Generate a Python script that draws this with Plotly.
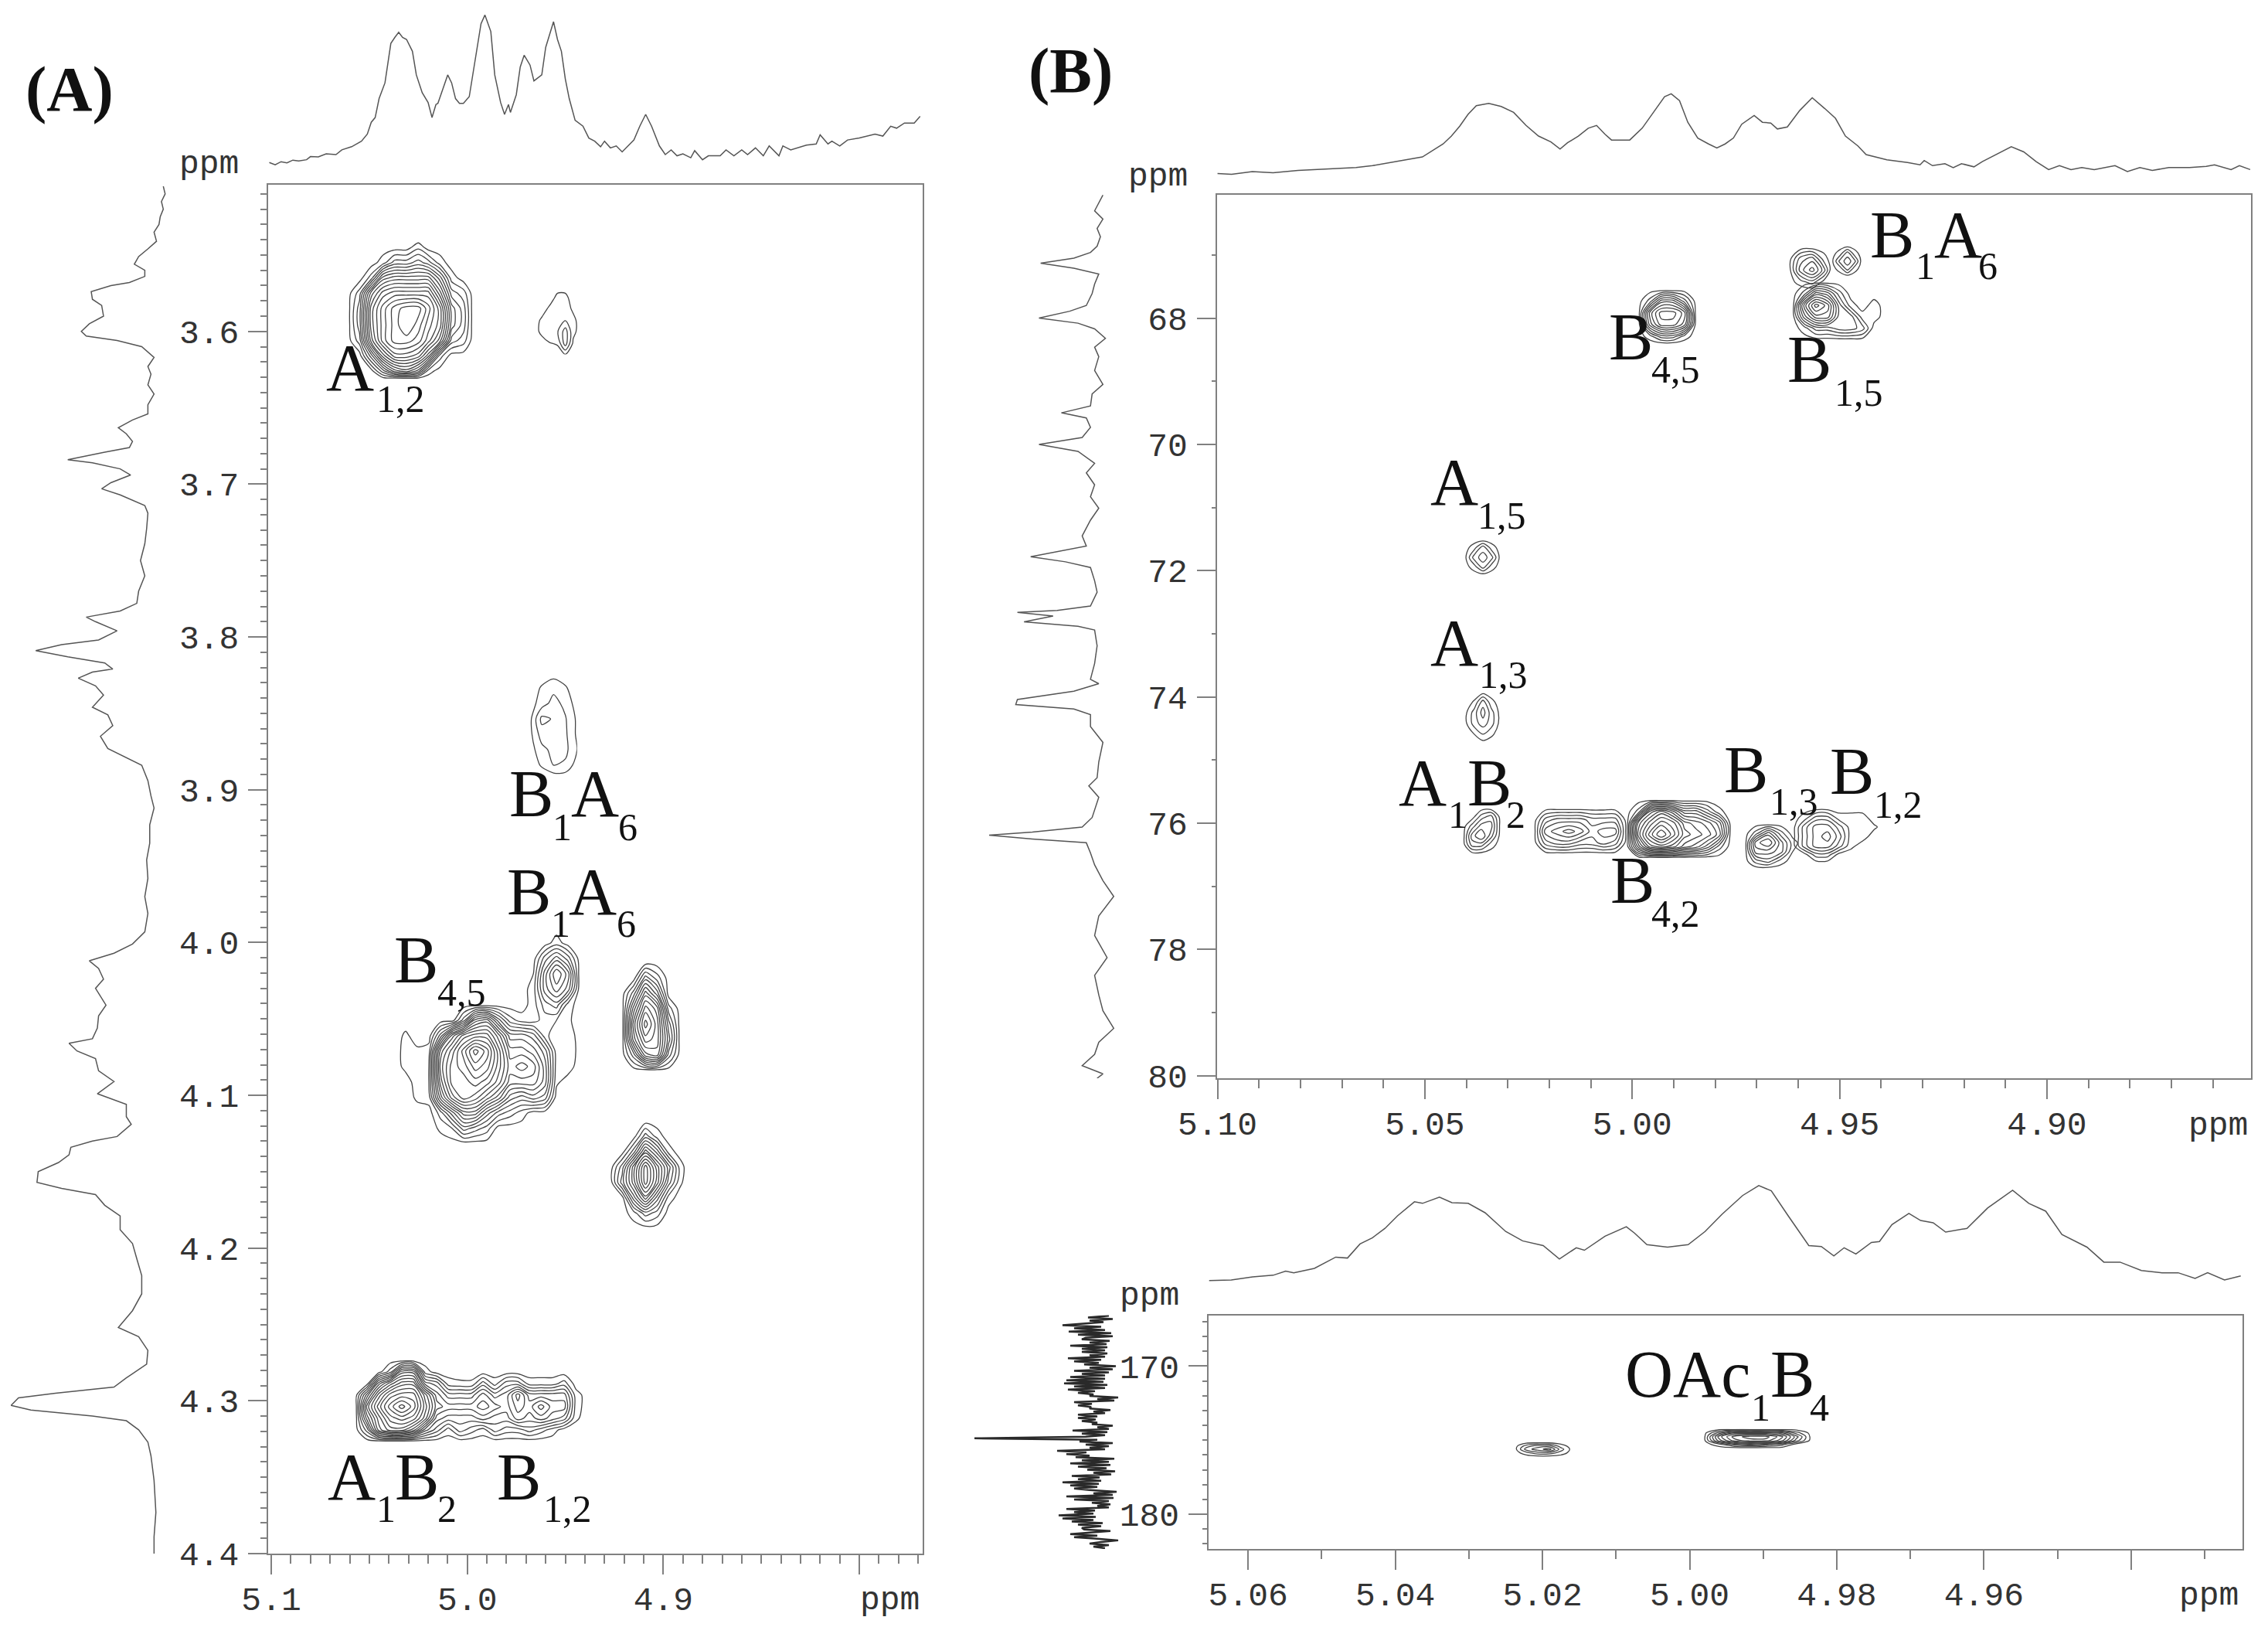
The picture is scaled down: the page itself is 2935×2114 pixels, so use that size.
import numpy as np
import plotly.graph_objects as go

W, H = 2935, 2114
MONO = "Liberation Mono"
SERIF = "Liberation Serif"
LINE = "#555555"
CONT = "#444444"
AXC = "#808080"
TXT = "#333333"

# ---------- projections: panel A ----------
top_a_ppm = [5.101,5.098,5.095,5.092,5.089,5.086,5.082,5.080,5.076,5.072,5.067,5.064,5.059,5.054,5.051,5.049,5.047,5.045,5.042,5.039,5.037,5.035,5.033,5.031,5.028,5.026,5.023,5.020,5.018,5.016,5.015,5.012,5.010,5.008,5.006,5.004,5.002,4.999,4.996,4.993,4.991,4.988,4.986,4.983,4.981,4.979,4.978,4.975,4.973,4.971,4.968,4.966,4.962,4.960,4.956,4.954,4.952,4.950,4.948,4.945,4.941,4.938,4.935,4.932,4.930,4.927,4.924,4.921,4.918,4.915,4.912,4.909,4.906,4.902,4.899,4.896,4.893,4.890,4.886,4.884,4.880,4.877,4.871,4.868,4.864,4.860,4.857,4.853,4.849,4.846,4.841,4.839,4.835,4.827,4.822,4.820,4.816,4.814,4.810,4.806,4.800,4.792,4.788,4.784,4.781,4.777,4.772,4.769]
top_a_int = [18,12,20,17,24,22,25,33,32,40,38,50,58,72,90,120,132,180,220,320,335,348,335,330,300,240,195,170,132,165,168,210,240,220,180,168,168,185,280,370,392,350,240,170,140,165,145,190,260,290,265,225,240,310,375,330,300,230,180,125,110,80,72,58,72,55,60,45,60,75,110,140,110,60,38,50,35,40,30,48,25,35,35,50,35,50,38,55,35,60,35,60,50,62,65,88,65,72,60,75,80,90,85,110,105,118,118,135]

left_a_ppm = [3.505,3.510,3.515,3.520,3.525,3.530,3.535,3.541,3.546,3.551,3.556,3.560,3.564,3.568,3.570,3.574,3.579,3.583,3.590,3.595,3.600,3.603,3.606,3.610,3.617,3.623,3.628,3.635,3.641,3.648,3.654,3.658,3.663,3.667,3.672,3.676,3.679,3.684,3.686,3.690,3.694,3.699,3.703,3.707,3.714,3.719,3.729,3.739,3.750,3.760,3.770,3.778,3.783,3.787,3.790,3.796,3.802,3.805,3.809,3.813,3.817,3.821,3.823,3.827,3.832,3.838,3.846,3.851,3.858,3.865,3.873,3.879,3.884,3.894,3.904,3.912,3.923,3.935,3.946,3.958,3.970,3.981,3.993,4.001,4.007,4.012,4.017,4.024,4.030,4.041,4.048,4.056,4.063,4.066,4.071,4.076,4.084,4.091,4.099,4.106,4.114,4.119,4.127,4.130,4.134,4.139,4.144,4.150,4.157,4.161,4.165,4.172,4.179,4.188,4.197,4.207,4.218,4.230,4.241,4.252,4.258,4.267,4.276,4.285,4.291,4.295,4.298,4.303,4.306,4.310,4.313,4.319,4.327,4.336,4.352,4.373,4.389,4.400]
left_a_int = [5,2,8,5,10,12,20,16,30,45,52,35,35,60,90,122,120,105,102,125,138,130,80,40,20,30,25,30,20,30,30,55,78,65,55,60,100,160,120,75,58,90,105,75,35,30,32,35,42,35,45,48,75,130,115,80,110,170,212,160,100,87,120,143,115,102,120,95,87,107,95,65,40,30,25,20,27,27,32,30,35,30,35,55,85,125,110,102,115,98,110,112,120,158,145,115,110,85,112,65,65,57,80,120,155,158,175,208,210,170,115,100,75,75,55,48,40,40,55,78,45,30,32,65,85,180,240,252,220,120,65,45,30,25,20,17,20,20]

# ---------- projections: panel B, upper spectrum ----------
top_b_ppm = [5.100,5.0966,5.0916,5.0866,5.0806,5.0766,5.0716,5.0666,5.0626,5.0586,5.0546,5.0506,5.0486,5.0456,5.0436,5.0416,5.0396,5.0376,5.0346,5.0316,5.0286,5.0256,5.0226,5.0196,5.0174,5.0156,5.013,5.0106,5.0086,5.0066,5.005,5.0006,4.9976,4.9946,4.9922,4.9906,4.9886,4.9866,4.9842,4.9816,4.9796,4.9776,4.9756,4.9736,4.9706,4.9686,4.9666,4.965,4.9626,4.9596,4.9566,4.9536,4.951,4.9486,4.9456,4.9436,4.9386,4.9336,4.9306,4.9296,4.9276,4.9246,4.9226,4.9206,4.9176,4.9156,4.9126,4.9086,4.9056,4.9026,4.8996,4.897,4.8942,4.8916,4.8886,4.8836,4.8806,4.8776,4.8746,4.8706,4.8656,4.8616,4.8596,4.8556,4.8536,4.851]
top_b_int = [10,8,15,12,18,20,22,25,30,38,45,52,65,85,105,130,160,182,188,180,165,132,105,90,72,88,105,125,132,110,95,95,125,170,205,212,195,140,100,85,75,85,100,135,157,140,138,123,128,170,202,175,150,105,80,58,45,38,32,43,30,35,25,35,27,40,57,78,65,40,20,30,20,25,20,30,15,25,18,25,25,28,32,20,30,20]

left_b_ppm = [66.05,66.18,66.30,66.43,66.58,66.71,66.86,66.96,67.05,67.13,67.21,67.30,67.46,67.61,67.80,67.89,68.00,68.08,68.17,68.32,68.46,68.61,68.83,69.05,69.20,69.39,69.50,69.58,69.73,69.89,70.00,70.11,70.30,70.45,70.64,70.83,71.01,71.20,71.45,71.61,71.70,71.78,71.86,71.95,72.16,72.34,72.56,72.63,72.66,72.72,72.81,72.88,72.94,73.19,73.47,73.72,73.79,73.91,74.04,74.12,74.19,74.28,74.47,74.72,75.03,75.28,75.41,75.59,75.91,76.06,76.14,76.19,76.25,76.31,76.47,76.66,76.91,77.16,77.47,77.78,78.13,78.41,78.72,78.97,79.25,79.47,79.66,79.84,79.97,80.04]
left_b_int = [15,20,25,15,22,18,22,30,50,90,50,20,25,28,35,55,92,45,25,12,25,20,25,15,28,30,65,35,30,40,92,45,25,35,25,30,20,30,40,35,70,102,60,30,25,22,30,70,118,75,110,45,25,22,25,30,20,50,118,120,50,30,30,15,20,22,32,20,28,40,100,152,100,35,30,25,15,2,20,25,10,25,20,15,2,20,25,40,15,22]

# ---------- projections: panel B, lower spectrum ----------
top_c_ppm = [5.0653,5.0623,5.0594,5.0566,5.0549,5.0538,5.0510,5.0481,5.0465,5.0448,5.0431,5.0414,5.0397,5.0374,5.0363,5.0340,5.0323,5.0301,5.0278,5.0250,5.0227,5.0199,5.0177,5.0154,5.0143,5.0115,5.0086,5.0075,5.0058,5.0030,5.0002,4.9979,4.9956,4.9928,4.9906,4.9889,4.9866,4.9838,4.9821,4.9804,4.9790,4.9774,4.9753,4.9742,4.9725,4.9702,4.9686,4.9669,4.9652,4.9623,4.9595,4.9561,4.9539,4.9516,4.9494,4.9460,4.9437,4.9415,4.9386,4.9358,4.9336,4.9313,4.9296,4.9273,4.9251]
top_c_int = [13,15,25,30,43,38,52,88,85,130,150,180,220,265,260,280,262,260,230,170,140,125,82,118,110,155,185,165,128,120,128,170,225,285,317,300,220,125,122,92,118,98,135,138,192,228,205,198,168,180,245,302,260,235,160,120,72,72,45,38,38,20,38,15,28]

left_c_int = [15,42,10,40,22,45,75,25,60,20,67,12,55,10,45,50,14,40,18,65,17,50,20,50,17,40,20,68,25,60,28,47,6,40,10,60,15,50,20,65,20,70,22,73,17,60,20,68,33,55,35,40,3,30,8,60,37,55,38,40,13,35,20,55,30,55,32,50,30,37,10,30,15,62,17,50,20,45,189,30,53,10,45,15,40,20,82,44,70,40,58,8,50,15,65,13,55,18,43,7,35,12,63,27,55,25,75,28,65,30,60,40,5,35,10,70,9,60,15,37,13,30,15,70,33,60,35,80,32,75,35,63,23,55,25,50,47,13,40,65,30,60,30,3,25,40,15,35,20]
left_c_ppm = np.linspace(166.6, 182.3, len(left_c_int))

# ---------- 2D peaks: (ppm x, ppm y, number of contour rings read at each point) ----------
peaks_a = [
 ([5.061,5.055,5.049,5.043,5.037,5.031,5.025,5.020,5.014,5.008,5.002,4.997],
  [3.540,3.545,3.555,3.565,3.575,3.585,3.596,3.606,3.616,3.626,3.631],
  [[0,0,0,0,0,0,0,0,0,0,0,0],
   [0,0,0,0,0,0,1.2,0,0,0,0,0],
   [0,0,0,1,3,3,4,3,1,0,0,0],
   [0,0,2,7,8,8,8,8,5,1,0,0],
   [0,2,8,11,12,12,12,12,8,3,2,0],
   [0,3,10,13,15,16,16,14,11,5,3,0],
   [0,3,10,13,15,16.5,15,13,11,5,3,0],
   [0,2,9,13,15,15,14,12,9,3,2,0],
   [0,0,4,9,12,12,11,8,2,0,0,0],
   [0,0,0,3,6,7,5,1,0,0,0,0],
   [0,0,0,0,0,0,0,0,0,0,0,0]]),
 ([4.966,4.962,4.958,4.954,4.950,4.946,4.942],
  [3.570,3.578,3.585,3.593,3.600,3.608,3.615],
  [[0,0,0,0,0,0,0],[0,0,0,.8,.8,0,0],[0,0,.7,1,1,.3,0],[0,.7,1,1.5,1.5,.8,0],[0,.8,1.5,1.4,3,.8,0],[0,0,.4,.6,3,.3,0],[0,0,0,0,.5,0,0]]),
 ([4.968,4.962,4.956,4.950,4.944],
  [3.8233,3.8334,3.8435,3.8536,3.8637,3.8738,3.8839,3.8916],
  [[0,0,0,0,0],[0,.6,1.2,.6,0],[0,1,1.9,1.2,0],[.2,2.8,2.4,1.6,.3],[.2,2,2.2,1.7,.3],[0,1.2,1.8,1.8,.5],[0,.6,1.5,1.3,0],[0,0,0,0,0]]),
 ([4.9210,4.9151,4.9091,4.9032,4.8973,4.8914],
  [4.0130,4.0231,4.0332,4.0433,4.0534,4.0635,4.0737,4.0838],
  [[0,0,0,0,0,0],[0,0,4,2,0,0],[0,3,8,5,0,0],[0,6,11,9,2,0],[0,8,13,10,4,0],[0,7,11,10,5,0],[0,3,8,9,3,0],[0,0,0,0,0,0]]),
 ([4.9269,4.9210,4.9151,4.9091,4.9032,4.8973,4.8914,4.8875],
  [4.1166,4.1267,4.1368,4.1469,4.1571,4.1672,4.1773,4.1874],
  [[0,0,0,0,0,0,0,0],[0,0,0,3,1,0,0,0],[0,0,3,8,5,1,0,0],[0,3,8,13,9,5,1,0],[0,4,8,13,9,4,.7,0],[0,0,5,9,5,1,0,0],[0,0,1,3,2,0,0,0],[0,0,0,0,0,0,0,0]]),
 ([5.0373,5.0314,5.0255,5.0196,5.0136,5.0077,5.0018,4.9959,4.9900,4.9841,4.9782,4.9722,4.9663,4.9604,4.9545,4.9486,4.9427],
  [3.9902,4.0003,4.0104,4.0205,4.0306,4.0408,4.0509,4.0610,4.0711,4.0812,4.0914,4.1015,4.1116,4.1217,4.1318],
  [[0,0,0,0,0,0,0,0,0,0,0,0,0,0,0,0,0],
   [0,0,0,0,0,0,0,0,0,0,0,0,0,0,1,0,0],
   [0,0,0,0,0,0,0,0,0,0,0,0,0,3,5,3,0],
   [0,0,0,0,0,0,0,0,0,0,0,0,.5,5,8.5,6,0],
   [0,0,0,0,0,0,0,0,0,0,0,0,1,5,7,5,0],
   [0,0,0,0,0,0,0,0,0,0,0,0,1,3,4,1,0],
   [0,0,0,0,0,0,3,8,9,5,2,1,1,2,1.5,.7,0],
   [0,.7,0,0,4,9,12,13,13,10,6,6,5,2,.5,1.2,0],
   [0,.9,.7,1,9,12,15,18,16,12,8,8,7,5,1,1.5,0],
   [0,.8,1,1.5,10,13,14,16,15,12,9,10,9,6,1,1,0],
   [0,0,1,1.5,9,13,13,14,13,11,8,8,8,6,.7,0,0],
   [0,0,.7,1,7,11,13,12,10,8,5,4,5,4,0,0,0],
   [0,0,0,0,2,5,8,8,5,3,2,1,0,0,0,0,0],
   [0,0,0,0,.7,1.5,4,3,2,0,0,0,0,0,0,0,0],
   [0,0,0,0,0,0,0,0,0,0,0,0,0,0,0,0,0]]),
 ([5.0570,5.0511,5.0452,5.0393,5.0334,5.0274,5.0215,5.0156,5.0097,5.0038,4.9979,4.9920,4.9860,4.9801,4.9742,4.9683,4.9624,4.9565,4.9506,4.9446,4.9387],
  [4.2734,4.2810,4.2886,4.2962,4.3038,4.3114,4.3190,4.3266],
  [[0]*21,
   [0,0,0,2,7,7,1,0,0,0,0,0,0,0,0,0,0,0,0,0,0],
   [0,0,6,9,11,11,5,4,1,.7,.7,3,1,3,3,1,1,1,2,0,0],
   [0,5,10,13,14,14,10,6,4,4,4,6,4,5,8,5,5,5,5,1,0],
   [0,8,12,15,17,15,11,7,6,6,6,7,6,5,7,6,8,6,6,1,0],
   [0,6,10,13,14,13,10,5,4,4,4,5,4,4,6,5,6,5,4,.7,0],
   [0,3,9,11,11,9,5,3,1,3,2,1,3,2,2,3,2,1,0,0,0],
   [0]*21]),
]

peaks_b = [
 ([4.9985,4.9957,4.9930,4.9902,4.9874,4.9846],[67.55,67.73,67.92,68.10,68.29,68.41],
  [[0,0,0,0,0,0],[0,2,6,6,3,0],[0,7,10,10,8,0],[0,6,9,9,7,0],[0,1,3,3,1,0],[0,0,0,0,0,0]]),
 ([4.9613,4.9585,4.9557,4.9529,4.9501,4.9473,4.9445,4.9417,4.9389],[67.43,67.61,67.80,67.98,68.16,68.35],
  [[0]*9,[0,2,6,5,2,0,0,0,0],[0,7,11,9,4,1,0,1,0],[0,5,8,8,4,4,1,1,0],[0,1,3,3,4,4,3,0,0],[0]*9]),
 ([4.9622,4.9594,4.9566,4.9538,4.9520],[66.88,67.06,67.24,67.43,67.55],
  [[0]*5,[0,3,4,1,0],[0,4,6,3,0],[0,1,2,0,0],[0]*5]),
 ([4.9520,4.9498,4.9481,4.9465,4.9446],[66.85,66.97,67.10,67.22,67.34],
  [[0]*5,[0,1,3,1,0],[0,3,4,3,0],[0,1,3,1,0],[0]*5]),
 ([5.0405,5.0381,5.0360,5.0340,5.0317],[71.51,71.63,71.79,71.94,72.07],
  [[0]*5,[0,1,3,1,0],[0,3,4,3,0],[0,1,3,1,0],[0]*5]),
 ([5.0405,5.0381,5.0360,5.0340,5.0317],[73.92,74.08,74.25,74.42,74.59,74.74],
  [[0]*5,[0,.6,3,.8,0],[0,2,4,2,0],[0,2,3,2,0],[0,.5,1.5,.7,0],[0]*5]),
 ([5.0408,5.0386,5.0364,5.0341,5.0317],[75.76,75.90,76.05,76.20,76.34,76.49],
  [[0]*5,[0,0,2,3,0],[0,2,4,4,0],[0,4,5.5,3,0],[0,3,3,1,0],[0]*5]),
 ([5.0237,5.0209,5.0181,5.0153,5.0125,5.0097,5.0069,5.0041,5.0013],[75.76,75.95,76.13,76.31,76.49],
  [[0]*9,[0,3,4,4,4,3,3,3,0],[0,5,6,7,6,4,5,5,0],[0,3,4,4,3,3,4,3,0],[0]*9]),
 ([5.0013,4.9985,4.9957,4.9930,4.9902,4.9874,4.9846,4.9818,4.9790,4.9762],[75.63,75.82,76.00,76.18,76.37,76.55],
  [[0]*10,[0,2,8,10,8,5,5,3,.8,0],[0,8,11,13,12,9,8,7,5,0],[0,9,13,15.5,13,10,9,8,6,0],[0,6,10,11,10,8,7,5,2,0],[0]*10]),
 ([4.9728,4.9702,4.9672,4.9642,4.9613,4.9590],[76.01,76.16,76.31,76.45,76.60,76.72],
  [[0]*6,[0,2,5,2,0,0],[0,6,7.5,4,1,0],[0,5,5,4,.5,0],[0,2,3,1,0,0],[0]*6]),
 ([4.9613,4.9585,4.9557,4.9529,4.9501,4.9473,4.9445,4.9417,4.9389],[75.76,75.92,76.06,76.21,76.36,76.50,76.63],
  [[0]*9,[0,1,3,3,1,1,1,0,0],[0,3,5,5,3,1,1,.7,0],[0,3,5,6,4,1,1,0,0],[0,3,5,5,3,.8,0,0,0],[0,0,2,2,0,0,0,0,0],[0]*9]),
]

peaks_c = [
 ([5.0238,5.0222,5.0207,5.0191,5.0175,5.0159],[175.14,175.40,175.61,175.87,176.13],
  [[0]*6,[0,2,3,3,1,0],[0,3,4,5,2,0],[0,1,2,2,1,0],[0]*6]),
 ([4.9981,4.9960,4.9939,4.9918,4.9897,4.9876,4.9855,4.9834],[174.25,174.51,174.77,175.03,175.29,175.55],
  [[0]*8,[0,3,6,6,6,5,2,0],[0,6,9,10,10,8,4,0],[0,5,8,9,9,7,3,0],[0,1,3,4,3,2,0,0],[0]*8]),
]

# ---------- tick labels ----------
a_xticks, a_xlabels = [5.1,5.0,4.9,4.8], ["5.1","5.0","4.9",""]
a_yticks = [3.6,3.7,3.8,3.9,4.0,4.1,4.2,4.3,4.4]
b_xticks, b_xlabels = [5.10,5.05,5.00,4.95,4.90,4.85], ["5.10","5.05","5.00","4.95","4.90",""]
b_yticks = [68,70,72,74,76,78,80]
c_xticks, c_xlabels = [5.06,5.04,5.02,5.00,4.98,4.96,4.94], ["5.06","5.04","5.02","5.00","4.98","4.96",""]
c_yticks = [170,180]

fig = go.Figure()

def dx(l, r): return [l / W, r / W]
def dy(t, b): return [1 - b / H, 1 - t / H]

tickfont = dict(family=MONO, size=43, color=TXT)

def main_axes(n, box, xr, yr, xt, xl, yt, xminor, yminor, minlen_y):
    l, t, r, b = box
    sx = "" if n == 1 else str(n)
    fig.layout["xaxis" + sx] = dict(domain=dx(l, r), range=xr, anchor="y" + sx, tickmode="array", tickvals=xt, ticktext=xl,
        ticks="outside", ticklen=25, tickwidth=1.5, tickcolor=AXC, showline=True, mirror=True, linecolor=AXC, linewidth=2,
        showgrid=False, zeroline=False, tickfont=tickfont, ticklabelstandoff=-6, tickangle=0,
        minor=dict(ticks="outside", ticklen=11, tickwidth=1.5, tickcolor=AXC, tick0=0, dtick=xminor, showgrid=False))
    fig.layout["yaxis" + sx] = dict(domain=dy(t, b), range=yr, anchor="x" + sx, tickmode="array", tickvals=yt,
        ticktext=[f"{v:.1f}" if v < 10 else str(v) for v in yt],
        ticks="outside", ticklen=24, tickwidth=1.5, tickcolor=AXC, showline=True, mirror=True, linecolor=AXC, linewidth=2,
        showgrid=False, zeroline=False, tickfont=tickfont, ticklabelstandoff=3,
        minor=dict(ticks="outside", ticklen=minlen_y, tickwidth=1.5, tickcolor=AXC, tick0=0, dtick=yminor, showgrid=False))

def hidden(box_dom, rng):
    return dict(domain=box_dom, range=rng, visible=False, showgrid=False, zeroline=False)

def add_line(x, y, n, w=1.5, color=LINE):
    fig.add_trace(go.Scatter(x=x, y=y, mode="lines", line=dict(color=color, width=w), xaxis=f"x{n}", yaxis=f"y{n}", showlegend=False, hoverinfo="skip"))

def add_peaks(peaks, n):
    sx = "" if n == 1 else str(n)
    for x, y, z in peaks:
        fig.add_trace(go.Contour(x=x, y=y, z=z, xaxis="x" + sx, yaxis="y" + sx, showscale=False, hoverinfo="skip",
            contours=dict(coloring="none", start=0.5, end=20, size=1), line=dict(color=CONT, width=1.3, smoothing=0.85)))

# panel A
AR = [5.1016, 4.7677]; AY = [4.4, 3.504]
main_axes(1, (347, 239, 1194, 2010), AR, AY, a_xticks, a_xlabels, a_yticks, 0.01, 0.01, 8)
fig.layout.xaxis2 = hidden(dx(347, 1194), AR); fig.layout.yaxis2 = hidden(dy(0, 219.4), [0, 430])
fig.layout.xaxis3 = hidden(dx(0, 215.3), [270, 0]); fig.layout.yaxis3 = hidden(dy(239, 2010), AY)
fig.layout.xaxis2.anchor = "y2"; fig.layout.yaxis2.anchor = "x2"; fig.layout.xaxis3.anchor = "y3"; fig.layout.yaxis3.anchor = "x3"
add_line(top_a_ppm, top_a_int, 2)
add_line(left_a_int, left_a_ppm, 3)
add_peaks(peaks_a, 1)

# panel B upper
BR = [5.1002, 4.8508]; BY = [80.04, 66.04]
main_axes(4, (1574.5, 251.5, 2913, 1395), BR, BY, b_xticks, b_xlabels, b_yticks, 0.01, 1, 5)
fig.layout.xaxis5 = hidden(dx(1574.5, 2913), BR); fig.layout.yaxis5 = hidden(dy(0, 229.6), [0, 450])
fig.layout.xaxis6 = hidden(dx(1250, 1443.4), [180, 0]); fig.layout.yaxis6 = hidden(dy(251.5, 1395), BY)
fig.layout.xaxis5.anchor = "y5"; fig.layout.yaxis5.anchor = "x5"; fig.layout.xaxis6.anchor = "y6"; fig.layout.yaxis6.anchor = "x6"
add_line(top_b_ppm, top_b_int, 5)
add_line(left_b_int, left_b_ppm, 6)
add_peaks(peaks_b, 4)

# panel B lower
CR = [5.0654, 4.9249]; CY = [182.35, 166.56]
main_axes(7, (1563.8, 1701.6, 2901.6, 2004), CR, CY, c_xticks, c_xlabels, c_yticks, 0.01, 1, 6)
fig.layout.xaxis8 = hidden(dx(1563.8, 2901.6), CR); fig.layout.yaxis8 = hidden(dy(1480, 1662), [0, 450])
fig.layout.xaxis9 = hidden(dx(1250, 1450), [200, 0]); fig.layout.yaxis9 = hidden(dy(1701.6, 2004), CY)
fig.layout.xaxis8.anchor = "y8"; fig.layout.yaxis8.anchor = "x8"; fig.layout.xaxis9.anchor = "y9"; fig.layout.yaxis9.anchor = "x9"
add_line(top_c_ppm, top_c_int, 8)
add_line(left_c_int, left_c_ppm, 9, w=2.5, color="#2a2a2a")
add_peaks(peaks_c, 7)

# ---------- text ----------
anns = []
def run(text, left, base, size=86):
    anns.append(dict(text=text, x=left / W, y=1 - (base - 0.3375 * size) / H, xref="paper", yref="paper", xanchor="left", yanchor="middle",
                     showarrow=False, borderpad=0, font=dict(family=SERIF, size=size, color="#111111")))

M, S = 86, 50
labels = [
 [("A",421,505,M),("1,2",486,533,S)],
 [("B",658,1056,M),("1",714,1087,S),("A",738,1056,M),("6",799,1087,S)],
 [("B",655,1183,M),("1",712,1212,S),("A",735,1183,M),("6",797,1212,S)],
 [("B",509,1271,M),("4,5",565,1301,S)],
 [("A",423,1940,M),("1",486,1969,S),("B",510,1940,M),("2",565,1969,S)],
 [("B",642,1940,M),("1,2",702,1969,S)],
 [("B",2419,333,M),("1",2478,361,S),("A",2502,333,M),("6",2559,361,S)],
 [("B",2081,465,M),("4,5",2136,495,S)],
 [("B",2312,494,M),("1,5",2373,525,S)],
 [("A",1850,653,M),("1,5",1911,684,S)],
 [("A",1850,861,M),("1,3",1913,890,S)],
 [("A",1809,1042,M),("1",1873,1071,S),("B",1898,1042,M),("2",1948,1071,S)],
 [("B",2083,1168,M),("4,2",2136,1199,S)],
 [("B",2230,1025,M),("1,3",2289,1054,S)],
 [("B",2367,1027,M),("1,2",2424,1058,S)],
 [("OAc",2102,1807,M),("1",2265,1838,S),("B",2290,1807,M),("4",2341,1838,S)],
]
for group in labels:
    for r in group:
        run(*r)

def center_text(text, cx, cy, family, size, bold=False, color=TXT):
    anns.append(dict(text=f"<b>{text}</b>" if bold else text, x=cx / W, y=1 - cy / H, xref="paper", yref="paper", xanchor="center", yanchor="middle",
                     showarrow=False, borderpad=0, font=dict(family=family, size=size, color=color)))

center_text("(A)", 90, 115, SERIF, 82, True, "#111111")
center_text("(B)", 1385, 92, SERIF, 82, True, "#111111")
for cx, cy in [(270,212),(1498,228),(1151,2070),(2870,1456),(2858,2064),(1487,1676)]:
    center_text("ppm", cx, cy, MONO, 43)

fig.update_layout(width=W, height=H, autosize=False, margin=dict(l=0, r=0, t=0, b=0, autoexpand=False), paper_bgcolor="white", plot_bgcolor="rgba(0,0,0,0)",
                  showlegend=False, annotations=anns)
fig.write_html("out.html", post_script="document.body.style.margin='0';", config={"displayModeBar": False})
